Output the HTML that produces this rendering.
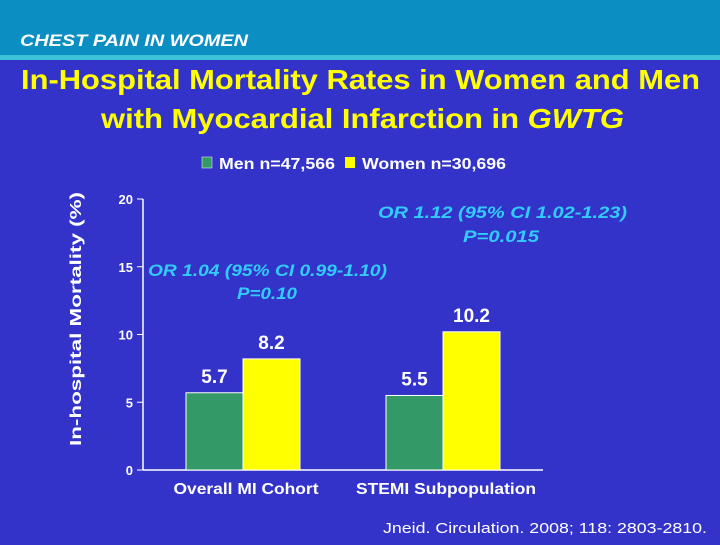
<!DOCTYPE html>
<html><head><meta charset="utf-8"><style>
body{margin:0;width:720px;height:540px;overflow:hidden;background:#3333C9;font-family:"Liberation Sans",sans-serif}
</style></head><body>
<svg width="720" height="540" xmlns="http://www.w3.org/2000/svg">
<rect x="0" y="0" width="720" height="55" fill="#0B8EC1"/>
<rect x="0" y="55" width="720" height="5" fill="#3CC3D6"/>
<text x="20" y="46" font-size="17" font-style="italic" font-weight="bold" fill="#fff" textLength="228" lengthAdjust="spacingAndGlyphs">CHEST PAIN IN WOMEN</text>
<text x="21" y="89" font-size="28" font-weight="bold" fill="#FFFF00" textLength="679" lengthAdjust="spacingAndGlyphs">In-Hospital Mortality Rates in Women and Men</text>
<text x="101" y="128" font-size="28" font-weight="bold" fill="#FFFF00" textLength="523" lengthAdjust="spacingAndGlyphs">with Myocardial Infarction in <tspan font-style="italic">GWTG</tspan></text>
<g>
<rect x="202" y="157" width="10" height="11" fill="#339966" stroke="#fff" stroke-width="0.5"/>
<text x="219" y="169" font-size="16" font-weight="bold" fill="#fff" textLength="116" lengthAdjust="spacingAndGlyphs">Men n=47,566</text>
<rect x="345" y="157" width="10" height="11" fill="#FFFF00"/>
<text x="362" y="169" font-size="16" font-weight="bold" fill="#fff" textLength="144" lengthAdjust="spacingAndGlyphs">Women n=30,696</text>
</g>
<text transform="translate(81,319) rotate(-90)" font-size="16" font-weight="bold" fill="#fff" text-anchor="middle" textLength="254" lengthAdjust="spacingAndGlyphs">In-hospital Mortality (%)</text>
<g id="chart"></g>
<text x="378" y="218" font-size="17" font-style="italic" font-weight="bold" fill="#33CCFF" textLength="249" lengthAdjust="spacingAndGlyphs">OR 1.12 (95% CI 1.02-1.23)</text>
<text x="463" y="242" font-size="17" font-style="italic" font-weight="bold" fill="#33CCFF" textLength="76" lengthAdjust="spacingAndGlyphs">P=0.015</text>
<text x="148" y="276" font-size="17" font-style="italic" font-weight="bold" fill="#33CCFF" textLength="239" lengthAdjust="spacingAndGlyphs">OR 1.04 (95% CI 0.99-1.10)</text>
<text x="237" y="299" font-size="17" font-style="italic" font-weight="bold" fill="#33CCFF" textLength="60" lengthAdjust="spacingAndGlyphs">P=0.10</text>
<text x="383" y="533" font-size="15" fill="#fff" textLength="324" lengthAdjust="spacingAndGlyphs">Jneid. Circulation. 2008; 118: 2803-2810.</text>
</svg>
<script>
const categories=["Overall MI Cohort","STEMI Subpopulation"];
const menValues=[5.7,5.5];
const womenValues=[8.2,10.2];
const yTicks=[0,5,10,15,20];
const NS="http://www.w3.org/2000/svg";
const g=document.getElementById('chart');
const x0=143,x1=543,yBase=470,yTop=199,yMax=20;
const y=v=>yBase-(v/yMax)*(yBase-yTop);
const groupW=(x1-x0)/categories.length;
const barW=57;
const labelLens=[145,180];
function mk(t,a,txt){const e=document.createElementNS(NS,t);for(const k in a)e.setAttribute(k,a[k]);if(txt!=null)e.textContent=txt;g.appendChild(e);return e;}
let e=mk('line',{x1:x0,y1:yTop,x2:x0,y2:yBase,stroke:'#fff','stroke-width':1.5});


e=mk('line',{x1:x0,y1:yBase,x2:x1,y2:yBase,stroke:'#fff','stroke-width':1.5});


yTicks.forEach(t=>{
 e=mk('line',{x1:x0-6,y1:y(t),x2:x0,y2:y(t),stroke:'#fff','stroke-width':1});
 
 
 e=mk('text',{x:x0-10,y:y(t)+5,'font-size':13,'font-weight':'bold',fill:'#fff','text-anchor':'end'},t);
 
 
});
categories.forEach((c,i)=>{
 const cx=x0+groupW*(i+0.5);
 const mv=menValues[i],wv=womenValues[i];
 e=mk('rect',{x:cx-barW,y:y(mv),width:barW,height:yBase-y(mv),fill:'#339966',stroke:'#fff','stroke-width':1});
 
 
 e=mk('rect',{x:cx,y:y(wv),width:barW,height:yBase-y(wv),fill:'#FFFF00',stroke:'#fff','stroke-width':1});
 
 
 e=mk('text',{x:cx-barW/2,y:y(mv)-10,'font-size':19,'font-weight':'bold',fill:'#fff','text-anchor':'middle'},mv.toFixed(1));
 
 
 e=mk('text',{x:cx+barW/2,y:y(wv)-10,'font-size':19,'font-weight':'bold',fill:'#fff','text-anchor':'middle'},wv.toFixed(1));
 
 
 e=mk('text',{x:cx+3,y:yBase+24,'font-size':16,'font-weight':'bold',fill:'#fff','text-anchor':'middle',textLength:labelLens[i],lengthAdjust:'spacingAndGlyphs'},c);
 
 
});
</script>
</body></html>
